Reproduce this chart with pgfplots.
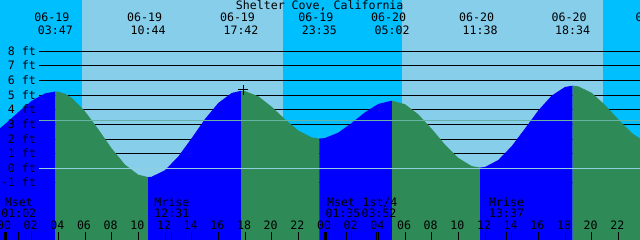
\documentclass[border=0pt]{standalone}
\usepackage{pgfplots}
\pgfplotsset{compat=1.18}
\usepackage{fontspec}
\newfontfamily\monof{DejaVu Sans Mono}
\newcommand\tf{\monof\fontsize{11.6pt}{13pt}\selectfont}
\definecolor{night}{HTML}{00BFFF}
\definecolor{day}{HTML}{87CEEB}
\definecolor{rise}{HTML}{0000FF}
\definecolor{fall}{HTML}{2E8B57}
\definecolor{meanc}{HTML}{66B3A6}
\definecolor{datumc}{HTML}{8FCFE0}
\begin{document}
\begin{tikzpicture}
\begin{axis}[name=ax, width=640pt, height=240pt, scale only axis,
 xmin=-0.375, xmax=47.625, ymin=-4.903, ymax=11.508,
 axis line style={draw=none}, axis on top,
 ytick=\empty,
 xtick={1.033,2,4,6,8,10,12,12.517,14,16,18,20,22,25.583,26,27.867,28,30,32,34,36,37.617,38,40,42,44,46},
 xticklabels={{},02,04,06,08,10,12,{},14,16,18,20,22,{},02,{},04,06,08,10,12,{},14,16,18,20,22},
 xtick pos=left, tick align=inside, major tick length=8.3pt,
 tick style={black, line width=1pt},
 xticklabel style={font=\tf, anchor=base, yshift=10.7pt, xshift=-1pt},
 extra x ticks={0,24}, extra x tick labels={00,00},
 extra x tick style={tick style={black, line width=3pt}},
]
% day / night
\addplot[fill=night, draw=none] coordinates {(-1,-6) (-1,12) (5.75,12) (5.75,-6)};
\addplot[fill=day, draw=none] coordinates {(5.75,-6) (5.75,12) (20.87,12) (20.87,-6)};
\addplot[fill=night, draw=none] coordinates {(20.87,-6) (20.87,12) (29.75,12) (29.75,-6)};
\addplot[fill=day, draw=none] coordinates {(29.75,-6) (29.75,12) (44.87,12) (44.87,-6)};
\addplot[fill=night, draw=none] coordinates {(44.87,-6) (44.87,12) (49,12) (49,-6)};
% grid lines
\foreach \k in {-1,0,1,2,3,4,5,6,7,8}{
 \addplot[black, line width=1pt] coordinates {(2.5725,\k) (48,\k)};
}
% water rising (blue) / falling (green)
\addplot[fill=rise, draw=none] coordinates {(-1,-6) (-1,2.55) (-0.375,2.74) (0,3.02) (1,3.84) (2,4.61) (3,5.12) (3.783,5.25) (3.783,-6)};
\addplot[fill=fall, draw=none] coordinates {(3.783,-6) (3.783,5.25) (4,5.236) (4.5,5.10) (5,4.82) (6,3.90) (7,2.67) (8,1.36) (9,0.25) (10,-0.44) (10.733,-0.6) (10.733,-6)};
\addplot[fill=rise, draw=none] coordinates {(10.733,-6) (10.733,-0.6) (11,-0.579) (12,-0.13) (13,0.81) (14,2.06) (15,3.37) (16,4.47) (17,5.15) (17.7,5.3) (17.7,-6)};
\addplot[fill=fall, draw=none] coordinates {(17.7,-6) (17.7,5.3) (18,5.28) (19,4.92) (20,4.21) (21,3.35) (22,2.58) (23,2.11) (23.583,2.03) (23.583,-6)};
\addplot[fill=rise, draw=none] coordinates {(23.583,-6) (23.583,2.03) (24,2.07) (25,2.44) (26,3.10) (27,3.83) (28,4.40) (29,4.62) (29.033,4.62) (29.033,-6)};
\addplot[fill=fall, draw=none] coordinates {(29.033,-6) (29.033,4.62) (30,4.38) (31,3.69) (32,2.70) (33,1.62) (34,0.71) (35,0.15) (35.633,0.05) (35.633,-6)};
\addplot[fill=rise, draw=none] coordinates {(35.633,-6) (35.633,0.05) (36,0.09) (37,0.57) (38,1.51) (39,2.72) (40,3.96) (41,4.97) (42,5.56) (42.567,5.65) (42.567,-6)};
\addplot[fill=fall, draw=none] coordinates {(42.567,-6) (42.567,5.65) (43,5.60) (44,5.16) (45,4.33) (46,3.34) (47,2.42) (48,1.79) (48,-6)};
% mean and datum lines
\addplot[meanc, line width=1pt] coordinates {(2.5725,3.28) (48,3.28)};
\addplot[datumc, line width=1pt] coordinates {(2.5725,0) (48,0)};
% now marker
\addplot[black, only marks, mark=+, mark size=5pt, line width=1pt] coordinates {(17.87,5.37)};
% y labels
\foreach \k in {-1,0,1,2,3,4,5,6,7,8}{
 \edef\temp{\noexpand\node[anchor=base east, font=\noexpand\tf, yshift=-4pt, inner sep=0pt] at (axis cs:2.325,\k) {\k\space ft};}
 \temp
}
% title
\node[anchor=base, font=\tf, inner sep=0pt] at (axis cs:23.6,10.824) {Shelter Cove, California};
% events
\node[anchor=base, font=\tf, inner sep=0pt, xshift=-3.5pt] at (axis cs:3.783,10.024) {06-19};
\node[anchor=base, font=\tf, inner sep=0pt] at (axis cs:3.783,9.162) {03:47};
\node[anchor=base, font=\tf, inner sep=0pt, xshift=-3.5pt] at (axis cs:10.733,10.024) {06-19};
\node[anchor=base, font=\tf, inner sep=0pt] at (axis cs:10.733,9.162) {10:44};
\node[anchor=base, font=\tf, inner sep=0pt, xshift=-3.5pt] at (axis cs:17.7,10.024) {06-19};
\node[anchor=base, font=\tf, inner sep=0pt] at (axis cs:17.7,9.162) {17:42};
\node[anchor=base, font=\tf, inner sep=0pt, xshift=-3.5pt] at (axis cs:23.583,10.024) {06-19};
\node[anchor=base, font=\tf, inner sep=0pt] at (axis cs:23.583,9.162) {23:35};
\node[anchor=base, font=\tf, inner sep=0pt, xshift=-3.5pt] at (axis cs:29.033,10.024) {06-20};
\node[anchor=base, font=\tf, inner sep=0pt] at (axis cs:29.033,9.162) {05:02};
\node[anchor=base, font=\tf, inner sep=0pt, xshift=-3.5pt] at (axis cs:35.633,10.024) {06-20};
\node[anchor=base, font=\tf, inner sep=0pt] at (axis cs:35.633,9.162) {11:38};
\node[anchor=base, font=\tf, inner sep=0pt, xshift=-3.5pt] at (axis cs:42.567,10.024) {06-20};
\node[anchor=base, font=\tf, inner sep=0pt] at (axis cs:42.567,9.162) {18:34};
\node[anchor=base, font=\tf, inner sep=0pt, xshift=-3.5pt] at (axis cs:48.86,10.024) {06-21};
% moon
\node[anchor=base, font=\tf, inner sep=0pt] at (axis cs:1.033,-2.585) {Mset};
\node[anchor=base, font=\tf, inner sep=0pt] at (axis cs:1.033,-3.337) {01:02};
\node[anchor=base, font=\tf, inner sep=0pt] at (axis cs:12.517,-2.585) {Mrise};
\node[anchor=base, font=\tf, inner sep=0pt] at (axis cs:12.517,-3.337) {12:31};
\node[anchor=base, font=\tf, inner sep=0pt] at (axis cs:25.2,-2.585) {Mset};
\node[anchor=base, font=\tf, inner sep=0pt] at (axis cs:25.35,-3.337) {01:35};
\node[anchor=base, font=\tf, inner sep=0pt] at (axis cs:28.125,-2.585) {1st/4};
\node[anchor=base, font=\tf, inner sep=0pt] at (axis cs:28.05,-3.337) {03:52};
\node[anchor=base, font=\tf, inner sep=0pt] at (axis cs:37.617,-2.585) {Mrise};
\node[anchor=base, font=\tf, inner sep=0pt] at (axis cs:37.617,-3.337) {13:37};
\end{axis}
\pgfresetboundingbox
\useasboundingbox (ax.south west) rectangle (ax.north east);
\end{tikzpicture}
\end{document}
